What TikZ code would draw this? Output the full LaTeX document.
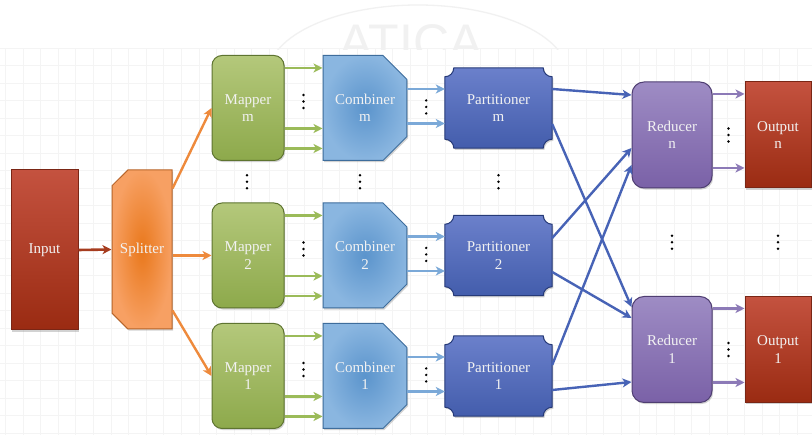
\documentclass[tikz,border=0pt]{standalone}
\usepackage{fontspec}
\setmainfont{Liberation Serif}
\newfontfamily\wmfont{Liberation Sans}
\usetikzlibrary{arrows.meta,shapes.misc,shadows,calc}

% palette
\definecolor{gridc}{HTML}{F4F4F4}
\definecolor{wmc}{HTML}{F1F1F1}
\definecolor{redtop}{HTML}{C4523F}
\definecolor{redbot}{HTML}{9A2B12}
\definecolor{redbd}{HTML}{7A2615}
\definecolor{orin}{HTML}{E9781C}
\definecolor{orout}{HTML}{F7A063}
\definecolor{orbd}{HTML}{B8652A}
\definecolor{grtop}{HTML}{B4C87B}
\definecolor{grbot}{HTML}{8DA94B}
\definecolor{grbd}{HTML}{5E7430}
\definecolor{blin}{HTML}{5B94CC}
\definecolor{blout}{HTML}{8AB6E0}
\definecolor{blbd}{HTML}{3E6D9C}
\definecolor{pttop}{HTML}{6B80CB}
\definecolor{ptbot}{HTML}{435DAC}
\definecolor{ptbd}{HTML}{263A78}
\definecolor{rdtop}{HTML}{9E8CC4}
\definecolor{rdbot}{HTML}{7A61A7}
\definecolor{rdbd}{HTML}{4F3E72}
\definecolor{arred}{HTML}{A63C1F}
\definecolor{arorange}{HTML}{EE8A3C}
\definecolor{argreen}{HTML}{9BBB59}
\definecolor{arlblue}{HTML}{7BA9D8}
\definecolor{ardblue}{HTML}{4763B6}
\definecolor{arpurple}{HTML}{8C7AB7}

% three stacked dots at a named point
\newcommand\vdotsat[1]{%
  \foreach \d in {-6.5,0,6.5}{\fill ($(#1)+(0,\d)$) circle[radius=1.35];}}

% partitioner outline: rectangle with concave quarter-circle corners
\newcommand\partshape[1]{%
  \shade[partfill]
    ($(#1.north west)+(9,0)$) -- ($(#1.north east)+(-9,0)$)
    arc[start angle=180,end angle=270,radius=9]
    -- ($(#1.south east)+(0,9)$)
    arc[start angle=90,end angle=180,radius=9]
    -- ($(#1.south west)+(9,0)$)
    arc[start angle=0,end angle=90,radius=9]
    -- ($(#1.north west)+(0,-9)$)
    arc[start angle=270,end angle=360,radius=9]
    -- cycle;}

\pgfdeclarelayer{bg}
\pgfdeclarelayer{shapes}
\pgfsetlayers{bg,shapes,main}

\begin{document}
\begin{tikzpicture}[x=1pt,y=1pt,
  shadowed/.style={drop shadow={shadow xshift=1.2pt,shadow yshift=-1.6pt,opacity=.35}},
  box/.style={inner sep=0pt,align=center,text=white!95!black,
    font=\fontsize{15}{17.5}\selectfont,shadowed,line width=1pt},
  inbox/.style={box,rectangle,top color=redtop,bottom color=redbot,draw=redbd},
  splitbox/.style={box,chamfered rectangle,
    chamfered rectangle corners={north west,south west},
    chamfered rectangle xsep=9pt,chamfered rectangle ysep=9pt,
    inner color=orin,outer color=orout,draw=orbd,
    minimum width=60pt,minimum height=159pt},
  mapbox/.style={box,rectangle,rounded corners=10pt,top color=grtop,
    bottom color=grbot,draw=grbd,minimum width=72pt,minimum height=105pt},
  combbox/.style={box,chamfered rectangle,
    chamfered rectangle corners={north east,south east},
    chamfered rectangle xsep=12pt,chamfered rectangle ysep=12pt,
    inner color=blin,outer color=blout,draw=blbd,
    minimum width=80pt,minimum height=105pt},
  partbox/.style={inner sep=0pt,align=center,text=white!95!black,
    font=\fontsize{15}{17.5}\selectfont,rectangle,
    minimum width=107pt,minimum height=80pt},
  partfill/.style={top color=pttop,bottom color=ptbot,draw=ptbd,
    line width=1pt,shadowed},
  redbox/.style={box,rectangle,rounded corners=12pt,top color=rdtop,
    bottom color=rdbot,draw=rdbd,minimum width=80pt,minimum height=106pt},
  outbox/.style={inbox,minimum width=66pt,minimum height=106pt},
  tip/.style={-{Stealth[length=9pt,width=9pt,inset=2.5pt]}},
  redarrow/.style={tip,draw=arred,line width=2.6pt},
  orarrow/.style={tip,draw=arorange,line width=2.4pt},
  grarrow/.style={tip,draw=argreen,line width=2.8pt},
  lbarrow/.style={tip,draw=arlblue,line width=2.8pt},
  dbarrow/.style={tip,draw=ardblue,line width=2.4pt},
  prarrow/.style={tip,draw=arpurple,line width=2.8pt},
]
\useasboundingbox (0,0) rectangle (812,435);

% paper, grid and faint watermark
\begin{pgfonlayer}{bg}
  \fill[white] (0,0) rectangle (812,435);
  \begin{scope}
    \clip (0,0) rectangle (812,386);
    \foreach \i in {0,...,46}{\draw[gridc,line width=1pt] ({5.4+17.6*\i},0) -- ({5.4+17.6*\i},386);}
    \foreach \k in {0,...,22}{\draw[gridc,line width=1pt] (0,{386.5-17.5*\k}) -- (812,{386.5-17.5*\k});}
  \end{scope}
  \begin{scope}
    \clip (0,385) rectangle (812,435);
    \draw[wmc,line width=1.3pt] (273.1,378.1) arc[start angle=165,end angle=15,x radius=150,y radius=70];
    \node[wmc,font=\wmfont\fontsize{50}{50}\selectfont,anchor=base] (wm) at (411,375) {ATICA};
  \end{scope}
\end{pgfonlayer}

% input and splitter
\node[inbox,minimum width=67pt,minimum height=160pt] (in) at (44.5,185) {Input};
\node[splitbox] (sp) at (142,185.5) {Splitter};

% mappers
\node[mapbox] (mm) at (248,327) {Mapper\\m};
\node[mapbox] (m2) at (248,179.5) {Mapper\\2};
\node[mapbox] (m1) at (248,59) {Mapper\\1};

% combiners
\node[combbox] (cm) at (365,327) {Combiner\\m};
\node[combbox] (c2) at (365,179.5) {Combiner\\2};
\node[combbox] (c1) at (365,59) {Combiner\\1};

% partitioners
\node[partbox] (pm) at (498.5,327) {Partitioner\\m};
\node[partbox] (p2) at (498.5,179.5) {Partitioner\\2};
\node[partbox] (p1) at (498.5,59) {Partitioner\\1};
\begin{pgfonlayer}{shapes}
  \partshape{pm}
  \partshape{p2}
  \partshape{p1}
\end{pgfonlayer}

% reducers and outputs
\node[redbox] (rn) at (672,300) {Reducer\\n};
\node[redbox] (r1) at (672,85.5) {Reducer\\1};
\node[outbox] (on) at (778,300) {Output\\n};
\node[outbox] (o1) at (778,85.5) {Output\\1};

% input -> splitter -> mappers
\draw[redarrow] (in.east) -- (sp.west);
\draw[orarrow] ([yshift=61]sp.east) -- (mm.west);
\draw[orarrow] (sp.east |- m2.west) -- (m2.west);
\draw[orarrow] ([yshift=-61]sp.east) -- (m1.west);

% mappers -> combiners
\foreach \a/\b in {mm/cm,m2/c2,m1/c1}{
  \foreach \s in {40,-20.5,-40.5}{\draw[grarrow] ([yshift=\s]\a.east) -- ([yshift=\s]\b.west);}
}

% combiners -> partitioners
\foreach \a/\b in {cm/pm,c2/p2,c1/p1}{
  \foreach \s in {19,-15.5}{\draw[lbarrow] ([yshift=\s]\a.east) -- ([yshift=\s]\b.west);}
}

% partitioners -> reducers
\draw[dbarrow] ([yshift=19]pm.east) -- ([yshift=40]rn.west);
\draw[dbarrow] ([yshift=-16]pm.east) -- ([yshift=42.5]r1.west);
\draw[dbarrow] ([yshift=17.5]p2.east) -- ([yshift=-13]rn.west);
\draw[dbarrow] ([yshift=-16.5]p2.east) -- ([yshift=31.5]r1.west);
\draw[dbarrow] ([yshift=11]p1.east) -- ([yshift=-30]rn.west);
\draw[dbarrow] ([yshift=-14]p1.east) -- ([yshift=-32.5]r1.west);

% reducers -> outputs
\foreach \a/\b in {rn/on,r1/o1}{
  \foreach \s in {41,-33}{\draw[prarrow] ([yshift=\s]\a.east) -- ([yshift=\s]\b.west);}
}

% elision dots
\foreach \a/\b/\n/\s in {mm/cm/dmm/6.5,m2/c2/dm2/6.5,m1/c1/dm1/6.5,
                         cm/pm/dcm/1,c2/p2/dc2/1,c1/p1/dc1/1,
                         rn/on/drn/0,r1/o1/dr1/0}{
  \coordinate (\n) at ($($(\a.east)!0.5!(\b.west)$)+(0,\s)$);
  \vdotsat{\n}
}
\coordinate (dcolm) at ($(mm.south)!0.5!(m2.north)+(-1,0)$);
\coordinate (dcolc) at ($(cm.south)!0.5!(c2.north)+(-5,0)$);
\coordinate (dcolp) at ($(pm.south)!0.5!(p2.north)+(0,0)$);
\coordinate (dcolr) at ($(rn.south)!0.5!(r1.north)$);
\coordinate (dcolo) at ($(on.south)!0.5!(o1.north)$);
\foreach \n in {dcolm,dcolc,dcolp,dcolr,dcolo}{\vdotsat{\n}}
\end{tikzpicture}
\end{document}
